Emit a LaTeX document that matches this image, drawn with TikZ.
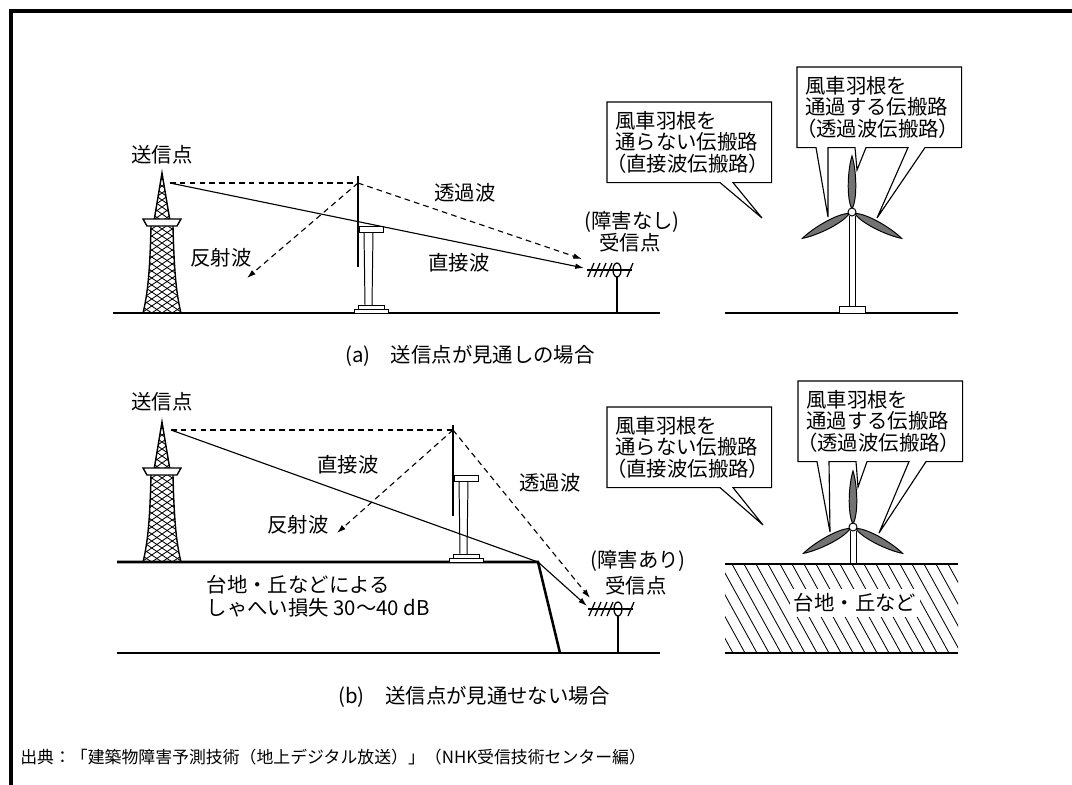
\documentclass[tikz,border=0pt]{standalone}
\usepackage{fontspec}
\setmainfont{Noto Sans CJK JP}
\usetikzlibrary{arrows.meta,calc,positioning}

% lattice transmitting tower, apex at the origin, feet 140 below
\newcommand{\latticetower}{%
  \begin{scope}
    \clip (0,0) -- (8,48) -- (-8,48) -- cycle;
    \foreach \k in {-8,-1,...,56}
      \draw[line width=0.6pt] (-10,\k) -- (10,\k+14) (10,\k) -- (-10,\k+14);
  \end{scope}
  \begin{scope}
    \clip (-11,53) .. controls (-12,95) and (-14,120) .. (-19,140) -- (19,140) .. controls (14,120) and (12,95) .. (11,53) -- cycle;
    \foreach \k in {20,27,...,150}
      \draw[line width=0.6pt] (-22,\k) -- (22,\k+30) (22,\k) -- (-22,\k+30);
  \end{scope}
  \draw[line width=1pt] (-8,48) -- (0,0) -- (8,48);
  \draw[line width=1pt,fill=white] (-19,46) -- (19,46) -- (15,53) -- (-15,53) -- cycle;
  \draw[line width=1pt] (-11,53) .. controls (-12,95) and (-14,120) .. (-19,140)
                        (11,53) .. controls (12,95) and (14,120) .. (19,140);
}

% wind turbine seen from the side, origin at blade foot line on the ground
\newcommand{\sideturbine}{%
  \draw[line width=0.7pt] (6,-81) -- (7,-8) (15,-81) -- (14,-8);
  \draw[line width=0.7pt,fill=white] (0,-8) rectangle (26,-4);
  \draw[line width=0.7pt,fill=white] (-4,-4) rectangle (30,0);
  \draw[line width=0.7pt,fill=white] (1,-87) rectangle (25,-81);
  \draw[line width=1.4pt] (0,-137) -- (0,-46);
}

% wind turbine seen from the front, origin at the hub, #1 = tower length
\newcommand{\frontturbine}[1]{%
  \draw[line width=0.7pt] (-3,4) -- (-3,#1) (3,4) -- (3,#1);
  \foreach \a in {0,118,-118}
    \draw[line width=0.7pt,fill=black!55,rotate=\a]
      (0,-3) .. controls (6,-14) and (4,-44) .. (0,-56) .. controls (-4,-44) and (-6,-14) .. (0,-3) -- cycle;
  \draw[line width=0.7pt,fill=white] (0,0) circle (4);
}

% receiving antenna, origin at the folded dipole, #1 = mast length
\newcommand{\yagi}[1]{%
  \draw[line width=0.9pt] (-30,0) -- (15,0);
  \foreach \u in {-26,-20,-14,-8}
    \draw[line width=0.9pt] (\u-3,7) -- (\u+3,-7);
  \draw[line width=0.9pt] (0,0) ellipse (4 and 7);
  \draw[line width=0.9pt] (10,7) -- (16,-7);
  \draw[line width=0.9pt] (0,7) -- (0,#1);
}

\begin{document}
\begin{tikzpicture}[x=0.025cm, y=-0.025cm, >=Latex,
    lbl/.style={font=\fontsize{14.5}{16}\selectfont, inner sep=1pt},
    wave/.style={line width=0.8pt},
    dashwave/.style={line width=0.8pt, dash pattern=on 4pt off 3pt},
    arr/.style={-{Latex[length=2.2mm,width=1.4mm]}},
    ground/.style={line width=1.8pt},
    callout/.style={font=\fontsize{14.5}{15.5}\selectfont, align=left, text width=3.7cm,
      inner xsep=0.2cm, minimum height=2cm, anchor=north west}]
  \useasboundingbox (0,0) rectangle (1072,784);
  \fill[white] (0,0) rectangle (1072,784);
  \draw[line width=2.2pt] (11,790) -- (11,11) -- (1080,11);

  % ---- (a) line of sight ----
  \node[lbl] (tx-a) at (162,155) {送信点};
  \begin{scope}[shift={(162,173)}] \latticetower \end{scope}
  \draw[ground] (113,313) -- (660,313);
  \draw[ground] (725,313) -- (958,313);
  \begin{scope}[shift={(358,313)}] \sideturbine \end{scope}
  \begin{scope}[shift={(617,270)}] \yagi{43} \end{scope}

  \coordinate (src-a) at (170,183);
  \coordinate (tip-a) at (358,183);
  \coordinate (refl-a) at (247,278);
  \coordinate (rx-a) at (584,268);
  \coordinate (rxd-a) at (582,259);
  \draw[dashwave] (src-a) -- (tip-a);
  \draw[dashwave,arr] (tip-a) -- (refl-a);
  \draw[dashwave,arr] (tip-a) -- (rxd-a);
  \draw[wave,arr] (src-a) -- (rx-a);

  \node[lbl] (thru-a) at (465,193) {透過波};
  \node[lbl] (direct-a) at (459,263) {直接波};
  \node[lbl] (refl-lbl-a) at (221,258) {反射波};
  \node[lbl] (cond-a) at (632,222) {(障害なし)};
  \node[lbl] (rx-lbl-a) at (630,243) {受信点};

  \node[callout] (dir-a) at (607,102) {風車羽根を\\通らない伝搬路\\\hspace*{-0.45em}（直接波伝搬路）};
  \coordinate (dir-tip-a) at (762,218);
  \draw[line width=0.8pt] (dir-a.north west) -- (dir-a.north east) -- (dir-a.south east)
    -- ($(dir-a.south west)+(126,0)$) -- (dir-tip-a) -- ($(dir-a.south west)+(113,0)$)
    -- (dir-a.south west) -- cycle;

  \node[callout] (pass-a) at (797,67) {風車羽根を\\通過する伝搬路\\\hspace*{-0.45em}（透過波伝搬路）};
  \coordinate (pass-l-a) at (828,217);
  \coordinate (pass-m-a) at (857,170);
  \coordinate (pass-r-a) at (877,218);
  \draw[line width=0.8pt] (pass-a.north west) -- (pass-a.north east) -- (pass-a.south east)
    -- ($(pass-a.south west)+(128,0)$) -- (pass-r-a) -- ($(pass-a.south west)+(111,0)$)
    -- ($(pass-a.south west)+(69,0)$) -- (pass-m-a) -- ($(pass-a.south west)+(58,0)$)
    -- ($(pass-a.south west)+(31,0)$) -- (pass-l-a) -- ($(pass-a.south west)+(19,0)$)
    -- (pass-a.south west) -- cycle;

  \begin{scope}[shift={(852,212)}] \frontturbine{94} \end{scope}
  \draw[line width=0.7pt,fill=white] (839,306) rectangle (865,313);

  \node[lbl] (cap-a) at (470,356) {(a)　送信点が見通しの場合};

  % ---- (b) shadowed by a plateau ----
  \node[lbl] (tx-b) at (162,402) {送信点};
  \begin{scope}[shift={(162,422)}] \latticetower \end{scope}
  \draw[ground] (117,562) -- (538,562) -- (560,653);
  \draw[ground] (117,653) -- (660,653);
  \begin{scope}[shift={(453,562)}] \sideturbine \end{scope}
  \begin{scope}[shift={(618,609)}] \yagi{44} \end{scope}

  \coordinate (src-b) at (171,430);
  \coordinate (tip-b) at (453,430);
  \coordinate (refl-b) at (337,533);
  \coordinate (edge-b) at (538,562);
  \coordinate (rx-b) at (587,606);
  \coordinate (rxd-b) at (590,598);
  \draw[dashwave] (src-b) -- (tip-b);
  \draw[dashwave,arr] (tip-b) -- (refl-b);
  \draw[dashwave,arr] (tip-b) -- (rxd-b);
  \draw[wave] (src-b) -- (edge-b);
  \draw[wave,arr] (edge-b) -- (rx-b);

  \node[lbl] (direct-b) at (348,465) {直接波};
  \node[lbl] (refl-lbl-b) at (298,525) {反射波};
  \node[lbl] (thru-b) at (550,483) {透過波};
  \node[lbl] (cond-b) at (638,561) {(障害あり)};
  \node[lbl] (rx-lbl-b) at (636,586) {受信点};
  \node[lbl, align=left, anchor=west] (loss) at (205,596) {台地・丘などによる\\しゃへい損失 30〜40 dB};

  \node[callout] (dir-b) at (607,407) {風車羽根を\\通らない伝搬路\\\hspace*{-0.45em}（直接波伝搬路）};
  \coordinate (dir-tip-b) at (763,525);
  \draw[line width=0.8pt] (dir-b.north west) -- (dir-b.north east) -- (dir-b.south east)
    -- ($(dir-b.south west)+(126,0)$) -- (dir-tip-b) -- ($(dir-b.south west)+(113,0)$)
    -- (dir-b.south west) -- cycle;

  \node[callout] (pass-b) at (798,381) {風車羽根を\\通過する伝搬路\\\hspace*{-0.45em}（透過波伝搬路）};
  \coordinate (pass-l-b) at (830,532);
  \coordinate (pass-m-b) at (858,487);
  \coordinate (pass-r-b) at (879,533);
  \draw[line width=0.8pt] (pass-b.north west) -- (pass-b.north east) -- (pass-b.south east)
    -- ($(pass-b.south west)+(128,0)$) -- (pass-r-b) -- ($(pass-b.south west)+(111,0)$)
    -- ($(pass-b.south west)+(69,0)$) -- (pass-m-b) -- ($(pass-b.south west)+(58,0)$)
    -- ($(pass-b.south west)+(31,0)$) -- (pass-l-b) -- ($(pass-b.south west)+(19,0)$)
    -- (pass-b.south west) -- cycle;

  % hatched plateau
  \begin{scope}
    \clip (725,564) rectangle (958,653);
    \foreach \k in {660,672,...,960}
      \draw[line width=0.6pt] (\k,564) -- (\k+49,653);
  \end{scope}
  \draw[ground] (725,564) -- (958,564);
  \draw[ground] (725,653) -- (958,653);
  \node[lbl, fill=white, inner sep=3pt] (plateau) at (855,603) {台地・丘など};

  \begin{scope}[shift={(853,527)}] \frontturbine{37} \end{scope}

  \node[lbl] (cap-b) at (474,697) {(b)　送信点が見通せない場合};

  \node[anchor=west, font=\fontsize{12}{14}\selectfont, inner sep=0pt] (credit) at (20,757)
    {出典：「建築物障害予測技術（地上デジタル放送）」（NHK受信技術センター編）};
\end{tikzpicture}
\end{document}
